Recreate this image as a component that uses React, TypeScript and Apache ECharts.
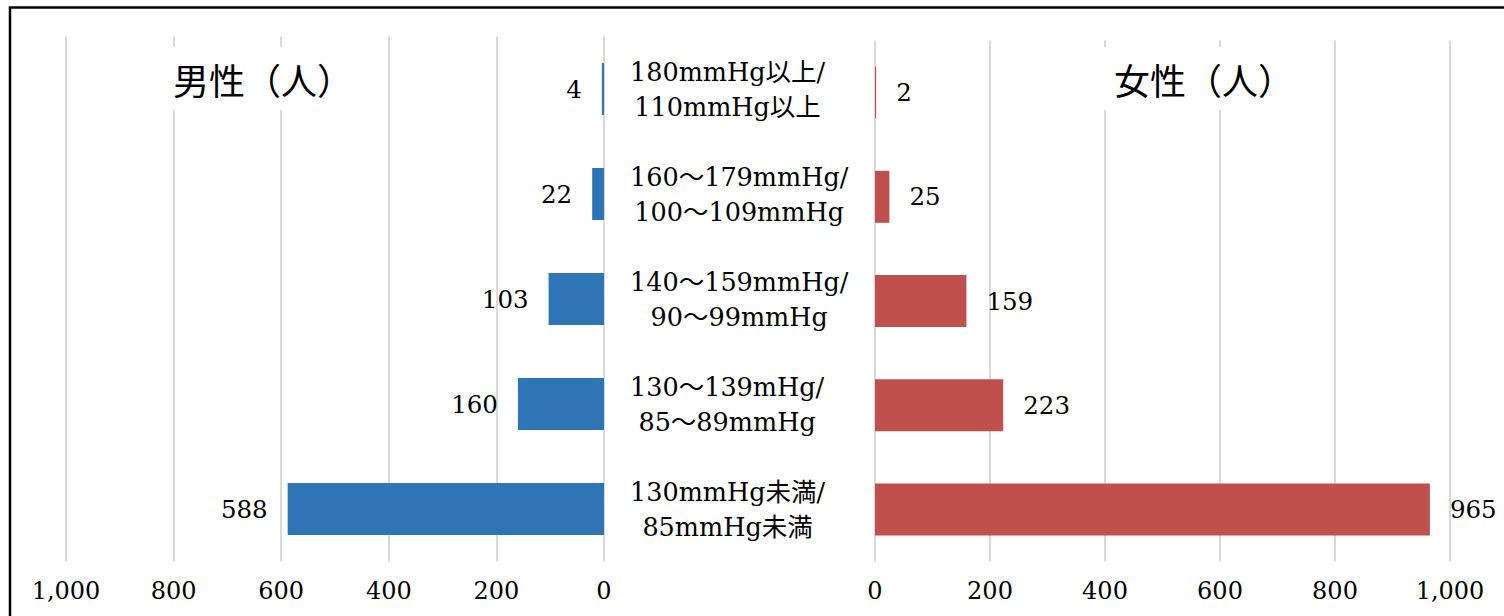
import React, { useEffect, useRef } from "react";
import * as echarts from "echarts";

const categories = [
  "180mmHg以上/\n110mmHg以上",
  "160～179mmHg/\n100～109mmHg",
  "140～159mmHg/\n90～99mmHg",
  "130～139mHg/\n85～89mmHg",
  "130mmHg未満/\n85mmHg未満",
];
const maleValues = [4, 22, 103, 160, 588];
const femaleValues = [2, 25, 159, 223, 965];
const maleTitle = "男性（人）";
const femaleTitle = "女性（人）";

const FONT = "'DejaVu Serif', 'Noto Sans CJK JP', serif";
const CJK = "'Noto Sans CJK JP', sans-serif";

export default function App() {
  const ref = useRef<HTMLDivElement>(null);
  useEffect(() => {
    if (!ref.current) return;
    const chart = echarts.init(ref.current, undefined, { renderer: "svg" });
    const gridLine = { show: true, lineStyle: { color: "#d9d9d9", width: 2 } };
    const xCommon = {
      type: "value",
      min: 0,
      max: 1000,
      interval: 200,
      axisLine: { show: false },
      axisTick: { show: false },
      splitLine: gridLine,
      axisLabel: {
        margin: 17,
        fontSize: 24,
        fontFamily: FONT,
        color: "#000",
        formatter: (v: number) => v.toLocaleString("en-US"),
      },
    };
    const titleStyle = { fontSize: 36, lineHeight: 37, fontWeight: "normal", fontFamily: CJK, color: "#000" };
    chart.setOption({
      animation: false,
      backgroundColor: "#fff",
      title: [
        {
          text: maleTitle,
          left: 161,
          top: 47,
          padding: [13, 10, 13, 12],
          backgroundColor: "#fff",
          textStyle: titleStyle,
        },
        {
          text: femaleTitle,
          left: 1102,
          top: 47,
          padding: [13, 10, 13, 12],
          backgroundColor: "#fff",
          textStyle: titleStyle,
        },
      ],
      graphic: [
        {
          type: "rect",
          silent: true,
          z: 100,
          shape: { x: 10, y: 7.5, width: 2000, height: 2000 },
          style: { fill: "none", stroke: "#000", lineWidth: 2.5 },
        },
      ],
      grid: [
        { left: 66, width: 538, top: 36.5, height: 525 },
        { left: 875, width: 575, top: 40.5, height: 521 },
      ],
      xAxis: [
        { ...xCommon, gridIndex: 0, inverse: true },
        { ...xCommon, gridIndex: 1 },
      ],
      yAxis: [
        {
          type: "category",
          gridIndex: 0,
          data: categories,
          inverse: true,
          position: "right",
          axisLine: { show: false },
          axisTick: { show: false },
          axisLabel: {
            margin: 26,
            align: "left",
            formatter: (v: string) => v.split("\n").map((l) => `{c|${l}}`).join("\n"),
            rich: {
              c: { align: "center", fontSize: 25.5, lineHeight: 35, fontFamily: FONT, color: "#000" },
            },
          },
        },
        {
          type: "category",
          gridIndex: 1,
          data: categories,
          inverse: true,
          axisLine: { show: false },
          axisTick: { show: false },
          axisLabel: { show: false },
        },
      ],
      series: [
        {
          type: "bar",
          xAxisIndex: 0,
          yAxisIndex: 0,
          data: maleValues,
          barWidth: 52,
          itemStyle: { color: "#2E75B6" },
          label: {
            show: true,
            position: "left",
            distance: 20,
            fontSize: 24.5,
            fontFamily: FONT,
            color: "#000",
          },
        },
        {
          type: "bar",
          xAxisIndex: 1,
          yAxisIndex: 1,
          data: femaleValues,
          barWidth: 52,
          itemStyle: { color: "#C0504D" },
          label: {
            show: true,
            position: "right",
            distance: 20,
            fontSize: 24.5,
            fontFamily: FONT,
            color: "#000",
          },
        },
      ],
    });
    return () => chart.dispose();
  }, []);
  return (
    <div
      ref={ref}
      style={{ position: "fixed", left: 0, top: 0, width: 1504, height: 616 }}
    />
  );
}
